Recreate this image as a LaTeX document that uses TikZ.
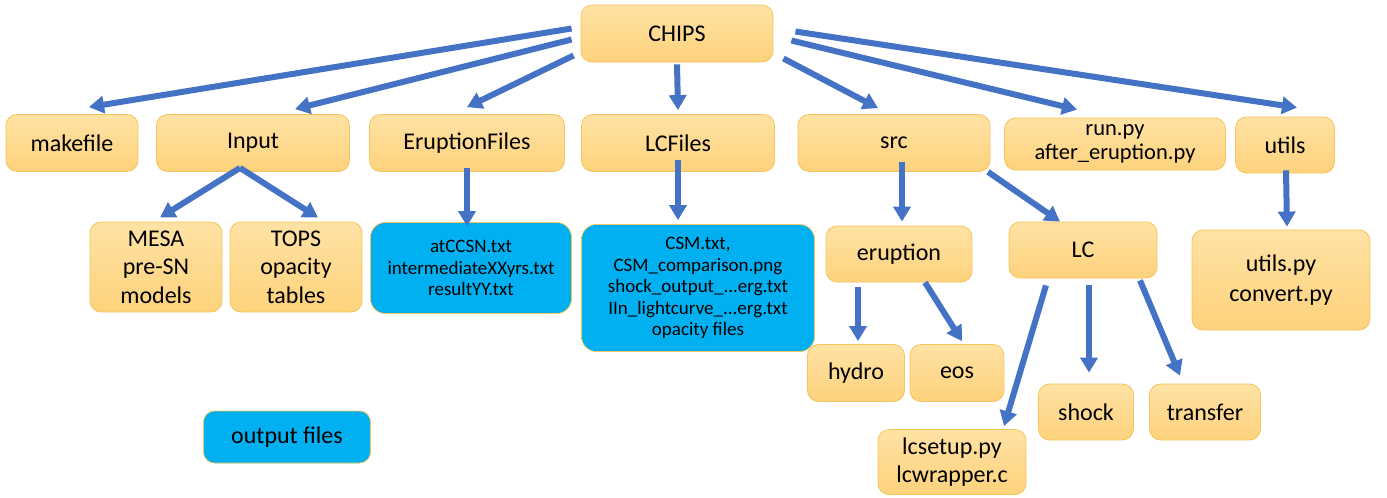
\documentclass[tikz,border=0pt]{standalone}
\usepackage{fontspec}
\setmainfont{Carlito}
\usepackage{xcolor}
\usetikzlibrary{arrows.meta}

\definecolor{boxtop}{HTML}{FFE2A4}
\definecolor{boxbot}{HTML}{FDD27C}
\definecolor{boxline}{HTML}{F4C55C}
\definecolor{outblue}{HTML}{00B0F0}
\definecolor{linkblue}{HTML}{4472C4}

\begin{document}
\begin{tikzpicture}[x=1pt,y=-1pt,
                    folder/.style={draw=boxline,line width=0.8pt,rounded corners=11pt,
                                   top color=boxtop,bottom color=boxbot,align=center,inner sep=0pt,
                                   font=\fontsize{24}{28.5}\selectfont},
                    outfile/.style={folder,rounded corners=15pt,fill=outblue,top color=outblue,bottom color=outblue,
                                    font=\fontsize{19}{21.5}\selectfont},
                    link/.style={draw=linkblue,line width=6pt,
                                 -{Triangle[width=17pt,length=15pt]}}]
                    \useasboundingbox (0,0) rectangle (1387,498);
                    % top level
                    \node[folder,minimum width=192pt,minimum height=57pt] (chips) at (677,33.5) {CHIPS};
                    \node[folder,minimum width=132pt,minimum height=57pt] (makefile) at (72,143) {makefile};
                    \node[folder,minimum width=193pt,minimum height=57pt] (input) at (253,143) {Input};
                    \node[folder,minimum width=195pt,minimum height=57pt] (eruptfiles) at (467,143) {EruptionFiles};
                    \node[folder,minimum width=193pt,minimum height=57pt] (lcfiles) at (678,143) {LCFiles};
                    \node[folder,minimum width=192pt,minimum height=57pt] (src) at (894,143) {src};
                    \node[folder,minimum width=221pt,minimum height=52pt,
                          font=\fontsize{22.5}{24}\selectfont] (runpy) at (1115,144) {run.py\\after\_eruption.py};
                    \node[folder,minimum width=99pt,minimum height=56pt] (utils) at (1285,145) {utils};
                    % second level
                    \node[folder,minimum width=132pt,minimum height=90pt] (mesa) at (156,267) {MESA\\pre-SN\\models};
                    \node[folder,minimum width=132pt,minimum height=90pt] (tops) at (296,267) {TOPS\\opacity\\tables};
                    \node[outfile,minimum width=201pt,minimum height=91pt] (erupout) at (471,268)
                        {atCCSN.txt\\intermediateXXyrs.txt\\resultYY.txt};
                    \node[outfile,minimum width=233pt,minimum height=127pt] (lcout) at (698,288)
                        {CSM.txt,\\CSM\_comparison.png\\shock\_output\_...erg.txt\\IIn\_lightcurve\_...erg.txt\\opacity files};
                    \node[folder,minimum width=146pt,minimum height=56pt] (eruption) at (899,254) {eruption};
                    \node[folder,minimum width=148pt,minimum height=56pt] (lc) at (1083,250) {LC};
                    \node[folder,minimum width=178pt,minimum height=100pt,
                          font=\fontsize{24}{30}\selectfont] (utilspy) at (1281,280) {utils.py\\convert.py};
                    % third level
                    \node[folder,minimum width=97pt,minimum height=57pt] (hydro) at (856,373) {hydro};
                    \node[folder,minimum width=94pt,minimum height=57pt] (eos) at (957,373) {eos};
                    \node[folder,minimum width=95pt,minimum height=56pt] (shock) at (1086,412) {shock};
                    \node[folder,minimum width=111pt,minimum height=56pt] (transfer) at (1205,412) {transfer};
                    \node[folder,minimum width=148pt,minimum height=65pt] (lcsetup) at (952,462) {lcsetup.py\\lcwrapper.c};
                    % legend
                    \node[outfile,rounded corners=11pt,minimum width=167pt,minimum height=52pt,
                          font=\fontsize{24}{28}\selectfont] (legend) at (287,437) {output files};
                    % links
                    \draw[link] ([shift={(-9,-5)}]chips.west) -- ([shift={(17,-7)}]makefile.north);
                    \draw[link] ([shift={(-9,6)}]chips.west) -- ([shift={(42,-5)}]input.north);
                    \draw[link] ([shift={(-7,22)}]chips.west) -- ([shift={(0,-7)}]eruptfiles.north);
                    \draw[link] ([shift={(0,2)}]chips.south) -- ([shift={(0,-4)}]lcfiles.north);
                    \draw[link] ([shift={(10,25)}]chips.east) -- ([shift={(-16,-6)}]src.north);
                    \draw[link] ([shift={(18,7)}]chips.east) -- ([shift={(-38,-8)}]runpy.north);
                    \draw[link] ([shift={(22,-2)}]chips.east) -- ([shift={(12,-9)}]utils.north);
                    \draw[link] ([shift={(-13,-4)}]input.south) -- ([shift={(4,-4)}]mesa.north);
                    \draw[link] ([shift={(-13,-4)}]input.south) -- ([shift={(22,-4)}]tops.north);
                    \draw[link] ([shift={(0,-4)}]eruptfiles.south) -- ([shift={(-4,4)}]erupout.north);
                    \draw[link] ([shift={(0,-12)}]lcfiles.south) -- ([shift={(-20,-4)}]lcout.north);
                    \draw[link] ([shift={(8,-10)}]src.south) -- ([shift={(3,-4)}]eruption.north);
                    \draw[link] ([shift={(94,0)}]src.south) -- ([shift={(-23,0)}]lc.north);
                    \draw[link] ([shift={(-41,5)}]eruption.south) -- ([shift={(2,-3)}]hydro.north);
                    \draw[link] ([shift={(26,0)}]eruption.south) -- ([shift={(5,-3)}]eos.north);
                    \draw[link] ([shift={(-37,7)}]lc.south) -- ([shift={(52,-3)}]lcsetup.north);
                    \draw[link] ([shift={(6,7)}]lc.south) -- ([shift={(3,-11)}]shock.north);
                    \draw[link] ([shift={(57,2)}]lc.south) -- ([shift={(-25,-8)}]transfer.north);
                    \draw[link] ([shift={(1,-3)}]utils.south) -- ([shift={(6,-3)}]utilspy.north);
                \end{tikzpicture}
\end{document}
